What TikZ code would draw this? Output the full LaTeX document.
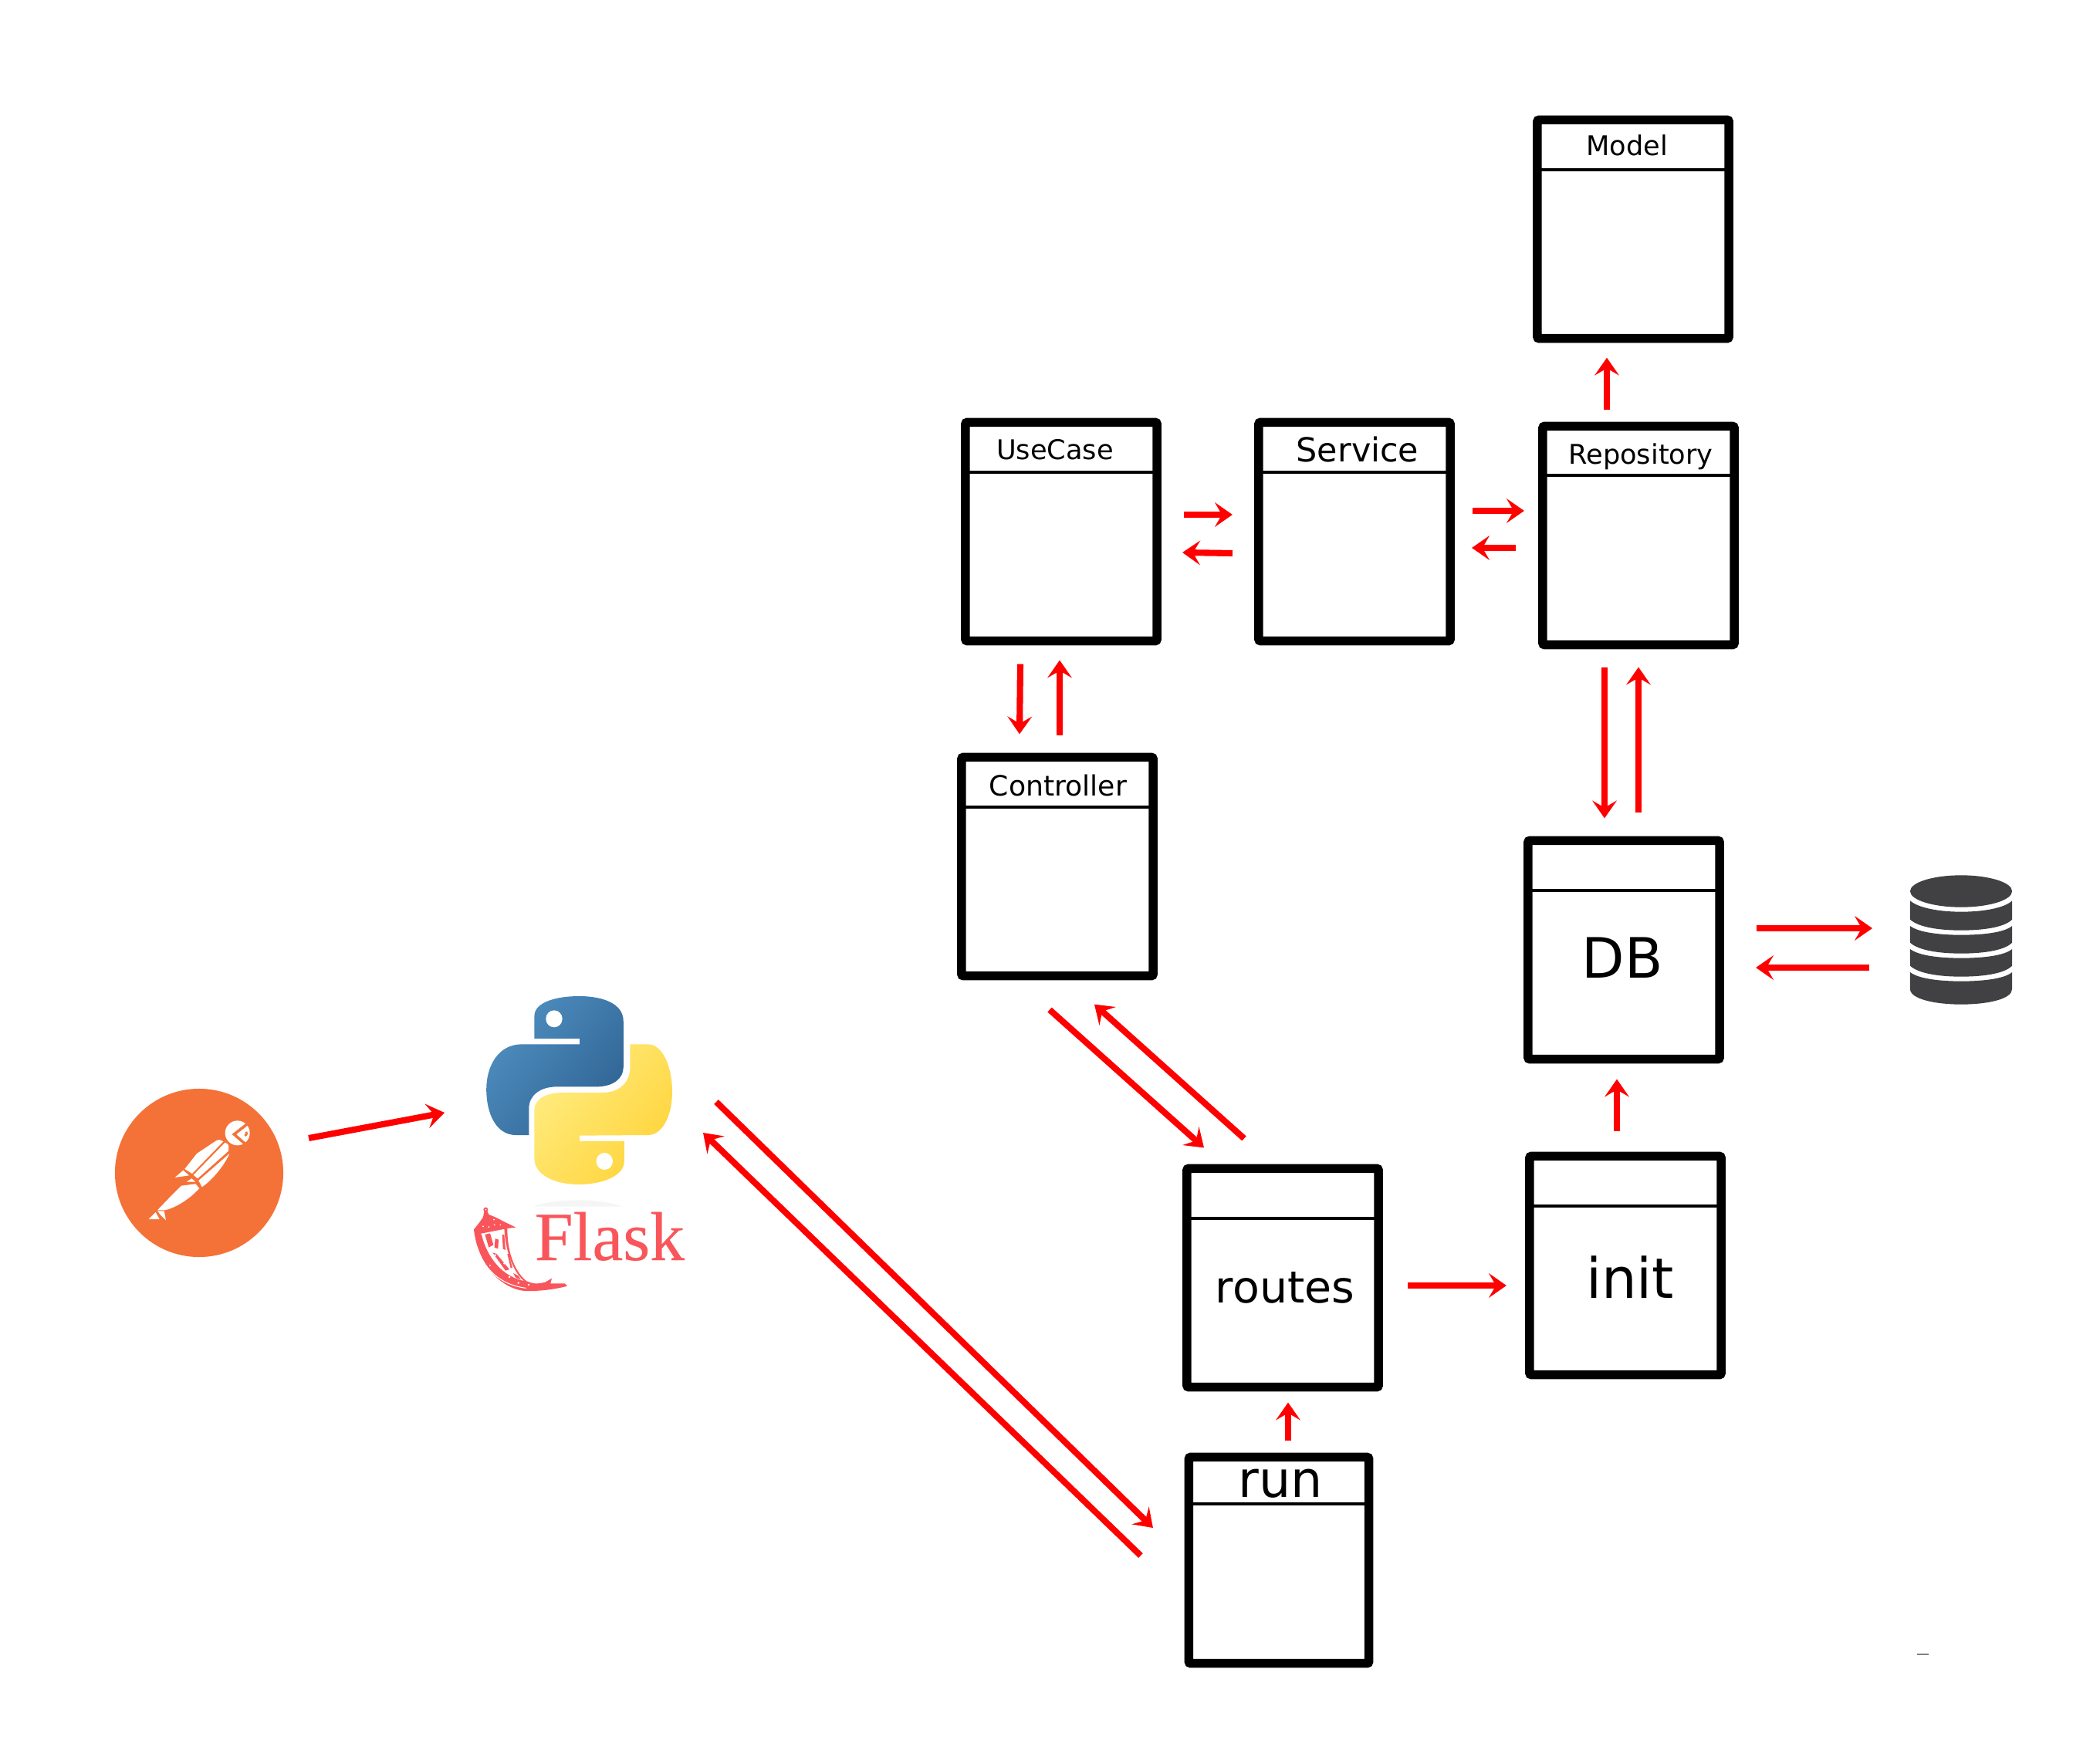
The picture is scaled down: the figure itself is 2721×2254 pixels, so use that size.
\documentclass[tikz,border=0pt]{standalone}
\usepackage{fontspec}
\setmainfont{DejaVu Sans}
\newfontfamily\flaskfont[FakeBold=0.25]{Liberation Serif}
\usetikzlibrary{arrows.meta,calc}
\definecolor{pmorange}{HTML}{F47237}
\definecolor{flaskred}{HTML}{F9565B}
\definecolor{dbgrey}{HTML}{414042}
\definecolor{pyblueA}{HTML}{4F8FC0}
\definecolor{pyblueB}{HTML}{2F6494}
\definecolor{pyyelA}{HTML}{FFEC80}
\definecolor{pyyelB}{HTML}{FFD43B}
\tikzset{
  classbox/.style={draw=black,line width=3.25pt,fill=white,rounded corners=0.6pt,minimum width=2.48cm,minimum height=2.83cm,inner sep=0pt,outer sep=0pt},
  runbox/.style={classbox,minimum width=2.33cm,minimum height=2.67cm},
  divider/.style={draw=black,line width=1.4pt},
  flow/.style={draw=red,line width=2.3pt,-{Stealth[length=6.5pt,width=9pt,inset=2.6pt]}},
  head/.style={font=\fontsize{10}{12}\selectfont,inner sep=0pt},
}
\begin{document}
\begin{tikzpicture}[x=0.01cm,y=-0.01cm]
\useasboundingbox (0,0) rectangle (2721,2254);
\fill[white] (0,0) rectangle (2721,2254);

% class boxes (centre of the outline)
\node[classbox] (model) at (2116,297) {};
\node[classbox] (usecase) at (1375,689) {};
\node[classbox] (service) at (1755,689) {};
\node[classbox] (repo) at (2123,694) {};
\node[classbox] (control) at (1370,1123) {};
\node[classbox] (db) at (2104,1231) {};
\node[classbox] (init) at (2106,1640) {};
\node[classbox] (routes) at (1662,1656) {};
\node[runbox] (run) at (1657,2022) {};

% dividers
\draw[divider] (model.west |- 0,220) -- (model.east |- 0,220);
\draw[divider] (usecase.west |- 0,612) -- (usecase.east |- 0,612);
\draw[divider] (service.west |- 0,612) -- (service.east |- 0,612);
\draw[divider] (repo.west |- 0,616) -- (repo.east |- 0,616);
\draw[divider] (control.west |- 0,1046) -- (control.east |- 0,1046);
\draw[divider] (db.west |- 0,1154) -- (db.east |- 0,1154);
\draw[divider] (init.west |- 0,1563) -- (init.east |- 0,1563);
\draw[divider] (routes.west |- 0,1579) -- (routes.east |- 0,1579);
\draw[divider] (run.west |- 0,1949) -- (run.east |- 0,1949);

% labels
\node[head] (tmodel) at (2108,188) {Model};
\node[head] (tusecase) at (1367,583) {UseCase};
\node[head,font=\fontsize{12.2}{14}\selectfont] (tservice) at (1759,582) {Service};
\node[head] (trepo) at (2126,592) {Repository};
\node[head,font=\fontsize{10.3}{12}\selectfont] (tcontrol) at (1371,1018) {Controller};
\node[head,font=\fontsize{20.5}{24}\selectfont] (tdb) at (2102,1241) {DB};
\node[head,font=\fontsize{16.2}{19}\selectfont] (troutes) at (1665,1669) {routes};
\node[head,font=\fontsize{20.5}{24}\selectfont] (tinit) at (2112,1655) {init};
\node[head,font=\fontsize{18.5}{22}\selectfont] (trun) at (1659,1923) {run};

% postman logo
\node[circle,fill=pmorange,minimum size=2.18cm,inner sep=0pt,outer sep=0pt] (postman) at (258,1520) {};
\begin{scope}[shift={(180,1440)},scale=0.3333]
  \fill[white] (383,85) circle (48);
  \draw[pmorange,line width=1pt] (424,48) -- (370,90) -- (418,132);
  \draw[pmorange,line width=0.8pt] (417,80) .. controls (420,88) .. (412,96);
  \fill[white] (300,115) .. controls (312,110) .. (328,118) -- (207,243) -- (178,225) -- (225,165) -- cycle;
  \fill[white] (172,230) -- (195,250) -- (140,258) -- cycle;
  \fill[white] (335,122) .. controls (350,130) .. (348,155) -- (228,262) -- (212,248) -- cycle;
  \fill[white] (352,165) .. controls (335,205) and (290,265) .. (245,295) -- (232,270) -- cycle;
  \fill[white] (205,262) -- (220,275) -- (185,275) -- cycle;
  \fill[white] (220,283) -- (235,300) .. controls (190,350) and (130,380) .. (100,385) -- (72,385) -- (120,335) -- (165,290) -- cycle;
  \fill[white] (65,393) -- (80,420) -- (38,420) -- cycle;
  \fill[white] (72,388) -- (98,388) -- (105,424) -- (85,405) -- cycle;
\end{scope}

% python logo
\begin{scope}[shift={(120,1260)},xscale=0.5102,yscale=0.3333]
  \shade[left color=pyblueA,right color=pyblueB,shading angle=50]
    (1122,258) -- (1122,170) .. controls (1122,115) and (1180,93) .. (1235,93)
    .. controls (1300,93) and (1348,125) .. (1348,190) -- (1348,370)
    .. controls (1348,415) and (1320,445) .. (1280,445) -- (1180,445)
    .. controls (1135,445) and (1108,480) .. (1108,530) -- (1108,633) -- (1075,633)
    .. controls (1025,633) and (1000,550) .. (1000,455)
    .. controls (1000,365) and (1030,280) .. (1090,280) -- (1237,280) -- (1237,258) -- cycle;
  \shade[left color=pyyelA,right color=pyyelB,shading angle=50]
    (1237,635) -- (1237,657) -- (1350,657) -- (1350,735)
    .. controls (1350,795) and (1290,825) .. (1235,825)
    .. controls (1170,825) and (1122,785) .. (1122,725) -- (1122,535)
    .. controls (1122,495) and (1150,468) .. (1195,468) -- (1295,468)
    .. controls (1340,468) and (1365,425) .. (1365,370) -- (1365,280) -- (1410,280)
    .. controls (1450,280) and (1472,375) .. (1472,465)
    .. controls (1472,550) and (1450,633) .. (1410,633) -- cycle;
  \fill[white] (1172,181) ellipse (21 and 33);
  \fill[white] (1300,735) ellipse (21 and 33);
  \fill[black!4] (1120,911) .. controls (1170,878) and (1290,878) .. (1345,911) -- cycle;
\end{scope}
\coordinate (python) at (750,1410);

% flask logo
\node[flaskred,font=\fontsize{25.5}{30}\flaskfont,anchor=base west,inner sep=0pt] (flask) at (692,1633) {Flask};
\begin{scope}[shift={(600,1550)},scale=0.3333]
  \fill[flaskred] (88,53) circle (9);
  \fill[white] (88,53) circle (3);
  % cap
  \fill[flaskred] (82,60) -- (95,60) -- (100,72) -- (125,82) -- (160,100) -- (205,122) -- (172,126) -- (100,140) -- (50,150) -- (42,130) -- (62,105) -- (78,82) -- cycle;
  % horn outline as a thick band, open inside
  \fill[flaskred] (42,130) .. controls (55,250) and (130,350) .. (230,368)
    .. controls (280,372) and (350,365) .. (405,350) -- (395,340) -- (340,340) -- (345,320) -- (320,335)
    .. controls (300,340) and (280,345) .. (250,332)
    .. controls (150,320) and (90,230) .. (72,150) -- cycle;
  % speckles inside the horn
  \fill[flaskred] (85,150) -- (105,145) -- (118,190) -- (100,200) -- cycle;
  \fill[flaskred] (125,165) -- (138,170) -- (136,205) -- (122,200) -- cycle;
  \fill[flaskred] (152,150) -- (160,150) -- (165,210) -- (155,205) -- cycle;
  \fill[flaskred] (115,220) -- (130,225) -- (180,285) -- (165,290) -- cycle;
  \fill[flaskred] (172,225) -- (178,225) -- (192,280) -- (185,280) -- cycle;
  \fill[flaskred] (160,126) -- (172,126) .. controls (172,210) and (195,290) .. (250,334) -- (240,334) .. controls (190,290) and (165,210) .. cycle;
  \fill[flaskred] (195,300) -- (215,310) -- (225,325) -- (205,318) -- cycle;
  \fill[white] (125,230) circle (4) (160,262) circle (4) (180,315) circle (4) (215,338) circle (4) (255,345) circle (4) (105,270) circle (3) (78,118) circle (3) (100,120) circle (3) (122,112) circle (3) (120,92) circle (3) (145,112) circle (2.5);
  \draw[white,line width=0.3pt] (55,200) .. controls (80,280) and (140,345) .. (245,358);
\end{scope}

% database icon
\begin{scope}[shift={(1950,1060)},xscale=0.4464,yscale=0.3333]
  \fill[dbgrey] (1324,285) ellipse (148 and 62);
  \fill[dbgrey] (1176,322) .. controls (1200,350) and (1260,365) .. (1324,365) .. controls (1390,365) and (1450,350) .. (1472,322)
    -- (1472,395) .. controls (1450,425) and (1390,437) .. (1324,437) .. controls (1260,437) and (1200,425) .. (1176,395) -- cycle;
  \fill[dbgrey] (1176,420) .. controls (1200,445) and (1260,455) .. (1324,455) .. controls (1390,455) and (1450,445) .. (1472,420)
    -- (1472,485) .. controls (1450,515) and (1390,527) .. (1324,527) .. controls (1260,527) and (1200,515) .. (1176,485) -- cycle;
  \fill[dbgrey] (1176,510) .. controls (1200,535) and (1260,545) .. (1324,545) .. controls (1390,545) and (1450,535) .. (1472,510)
    -- (1472,575) .. controls (1450,605) and (1390,617) .. (1324,617) .. controls (1260,617) and (1200,605) .. (1176,575) -- cycle;
  \fill[dbgrey] (1176,600) .. controls (1200,625) and (1260,635) .. (1324,635) .. controls (1390,635) and (1450,625) .. (1472,600)
    -- (1472,665) .. controls (1472,705) and (1400,725) .. (1324,725) .. controls (1250,725) and (1176,705) .. (1176,665) -- cycle;
\end{scope}
\coordinate (dbicon) at (2541,1218);

% connectors
\draw[flow] ($(postman.center)+(142,-45)$) -- ($(python)+(-174,32)$);
\draw[flow] ($(python)+(178,18)$) -- ($(run.west)+(-46.5,-42)$);
\draw[flow] ($(run.west)+(-62.5,-6)$) -- ($(python)+(161,58)$);
\draw[flow] ($(control.south)+(-10,44)$) -- ($(routes.north)+(-102,-27)$);
\draw[flow] ($(routes.north)+(-50,-39)$) -- ($(control.south)+(48,37)$);
\draw[flow] ($(usecase.south)+(-53,30)$) -- ($(control.north)+(-49,-30)$);
\draw[flow] ($(control.north)+(3,-28)$) -- ($(usecase.south)+(-2,25)$);
\draw[flow] ($(usecase.east)+(35,-22)$) -- ($(service.west)+(-34,-22)$);
\draw[flow] ($(service.west)+(-34,28)$) -- ($(usecase.east)+(33,27)$);
\draw[flow] ($(service.east)+(29,-27)$) -- ($(repo.west)+(-24,-32)$);
\draw[flow] ($(repo.west)+(-35,16)$) -- ($(service.east)+(28,21)$);
\draw[flow] ($(repo.north)+(-41,-21)$) -- ($(model.south)+(-34,25)$);
\draw[flow] ($(repo.south)+(-44,29)$) -- ($(db.north)+(-25,-29)$);
\draw[flow] ($(db.north)+(19,-36)$) -- ($(repo.south)+(0,29)$);
\draw[flow] ($(init.north)+(-11,-32)$) -- ($(db.south)+(-9,26)$);
\draw[flow] ($(db.east)+(48,-28)$) -- ($(dbicon)+(-115,-15)$);
\draw[flow] ($(dbicon)+(-119,36)$) -- ($(db.east)+(47,23)$);
\draw[flow] ($(routes.east)+(38,10)$) -- ($(init.west)+(-30,26)$);
\draw[flow] ($(run.north)+(12,-21.5)$) -- ($(routes.south)+(7,20)$);

% stray mark
\draw[black!50,line width=0.6pt] (2484,2144) -- (2499,2144);
\end{tikzpicture}
\end{document}
